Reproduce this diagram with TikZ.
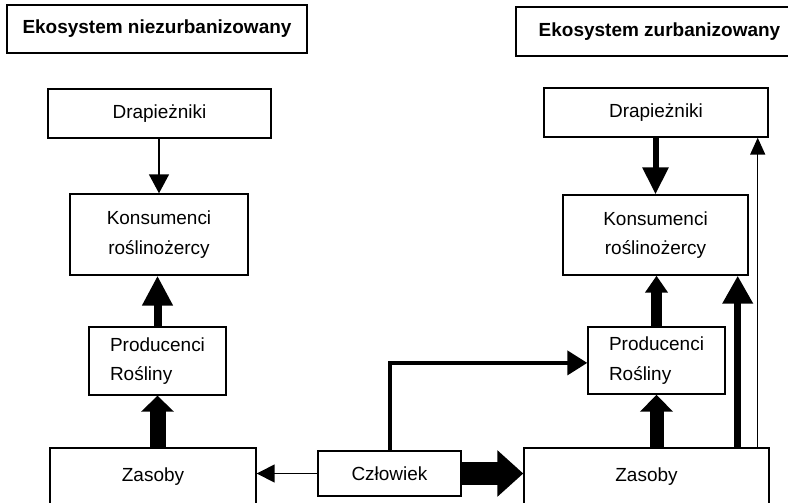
\documentclass[tikz,border=0pt]{standalone}
\usepackage{fontspec}
\setmainfont{Liberation Sans}
\usetikzlibrary{arrows.meta}

\begin{document}
\begin{tikzpicture}[x=0.25mm,y=-0.25mm,
	box/.style={rectangle, draw, line width=0.35mm, inner sep=0pt, font=\fontsize{13.5}{21}\selectfont},
	tytul/.style={box, font=\fontsize{13.5}{16}\selectfont\bfseries}]
			\useasboundingbox (0,0) rectangle (788,502);
			\clip (0,0) rectangle (788,502);
			% Naglowki
			\node[tytul, minimum width=75mm, minimum height=12mm] (tytulL) at (157,29) {Ekosystem niezurbanizowany};
			\node[tytul, minimum width=69mm, minimum height=12.25mm] (tytulR) at (654,31.5) {\hspace*{2.75mm}Ekosystem zurbanizowany};
			
			% Ekosystem niezurbanizowany
			\node[box, minimum width=55.75mm, minimum height=12.25mm] (drapL) at (159.5,113.5) {Drapieżniki};
			\node[box, minimum width=44.5mm, minimum height=20.25mm, align=center] (konsL) at (159,234.5) {Konsumenci\\roślinożercy};
			\node[box, minimum width=34.25mm, minimum height=17mm, align=left] (prodL) at (157.5,361) {Producenci\\Rośliny};
			\node[box, minimum width=51.5mm, minimum height=14.5mm] (zasL) at (153,477) {Zasoby};
			
			% Czlowiek
			\node[box, minimum width=35.75mm, minimum height=11.25mm] (czlowiek) at (389.5,473.5) {Człowiek};
			
			% Ekosystem zurbanizowany
			\node[box, minimum width=56mm, minimum height=12.25mm] (drapR) at (656,112.5) {Drapieżniki};
			\node[box, minimum width=46.25mm, minimum height=20mm, align=center] (konsR) at (655.5,235) {Konsumenci\\roślinożercy};
			\node[box, minimum width=34.25mm, minimum height=16.75mm, align=left] (prodR) at (656.5,360.5) {Producenci\\Rośliny};
			\node[box, minimum width=61.25mm, minimum height=14.5mm] (zasR) at (646.5,477) {Zasoby};
			
			\coordinate (wejscieK) at ([xshift=-2.75mm]konsR.south east);
			\coordinate (wejscieD) at ([xshift=-2.75mm]drapR.south east);
			
			% Strzalki lewe
			\draw[-{Triangle[length=4.75mm,width=5mm]}, line width=0.375mm] (drapL.south -| konsL.north) -- (konsL.north);
			\draw[-{Triangle[length=7.5mm,width=7.25mm]}, line width=2mm] (prodL.north) -- (prodL.north |- konsL.south);
			\draw[-{Triangle[length=4mm,width=8mm]}, line width=4mm] (zasL.north -| prodL.south) -- (prodL.south);
			
			% Strzalki od czlowieka
			\draw[-{Triangle[length=4.5mm,width=4.5mm]}, line width=0.375mm] (czlowiek.west) -- (czlowiek.west -| zasL.east);
			\draw[-{Triangle[length=5mm,width=6mm]}, line width=1mm] (czlowiek.north) |- ([yshift=-0.6mm]prodR.west);
			\draw[-{Triangle[length=6.5mm,width=11.25mm]}, line width=5.75mm] (czlowiek.east) -- (czlowiek.east -| zasR.west);
			
			% Strzalki prawe
			\draw[-{Triangle[length=6.75mm,width=6.25mm]}, line width=1.5mm] (drapR.south -| konsR.north) -- (konsR.north);
			\draw[-{Triangle[length=4.25mm,width=5.5mm]}, line width=2.75mm] (prodR.north) -- (prodR.north |- konsR.south);
			\draw[-{Triangle[length=4.25mm,width=8mm]}, line width=3.5mm] (zasR.north -| prodR.south) -- (prodR.south);
			\draw[-{Triangle[length=7mm,width=7.25mm]}, line width=1.75mm] (wejscieK |- zasR.north) -- (wejscieK);
			\draw[-{Triangle[length=4.25mm,width=3.75mm]}, line width=0.375mm] (wejscieD |- zasR.north) -- (wejscieD);
			
		\end{tikzpicture}
\end{document}
